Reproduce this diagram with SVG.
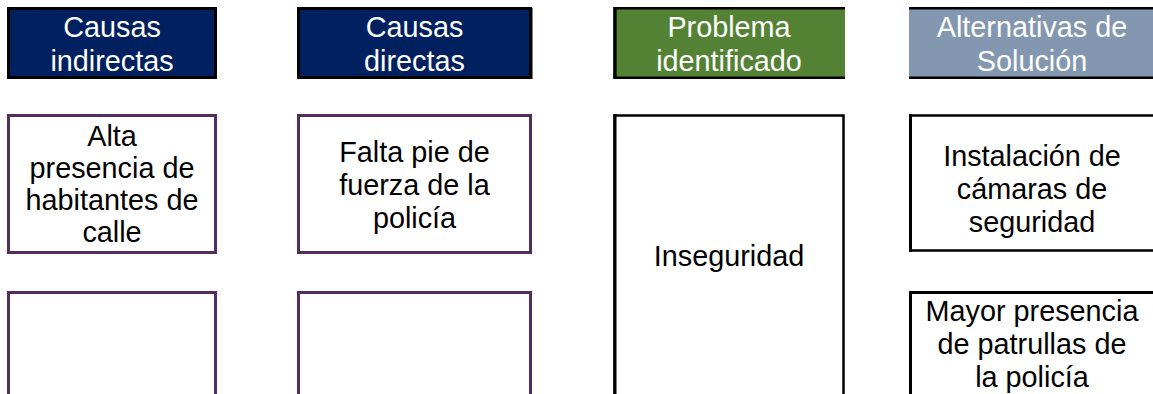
<svg xmlns="http://www.w3.org/2000/svg" width="1153" height="394" viewBox="0 0 1153 394">
<style>
text{font-family:"Liberation Sans",Arial,sans-serif;font-size:28.8px;text-anchor:middle}
.hw{fill:#ffffff}
.bk{fill:#000000}
.pbox{fill:#ffffff;stroke:#542E5E;stroke-width:3}
.kbox{fill:#ffffff;stroke:#000000;stroke-width:2.5}
.edge{stroke:#000000;stroke-width:3;fill:none}
.edge2{stroke:#000000;stroke-width:2.5;fill:none}
</style>
<g id="h-causas-indirectas">
<rect x="8.5" y="8.5" width="207" height="69" fill="#002060" stroke="#000000" stroke-width="3"/>
<text class="hw" x="112" y="37">Causas</text>
<text class="hw" x="112" y="71">indirectas</text>
</g>
<g id="h-causas-directas">
<rect x="298.5" y="8.5" width="232" height="69" fill="#002060" stroke="#000000" stroke-width="3"/>
<line class="edge" x1="531" y1="8" x2="531" y2="79"/>
<text class="hw" x="414.5" y="37">Causas</text>
<text class="hw" x="414.5" y="71">directas</text>
</g>
<g id="h-problema">
<rect x="613" y="7" width="232" height="72" fill="#548235"/>
<path class="edge2" d="M845 8.2H615V77.8H845"/>
<line class="edge" x1="615" y1="7" x2="615" y2="79"/>
<text class="hw" x="729" y="37">Problema</text>
<text class="hw" x="729" y="71">identificado</text>
</g>
<g id="h-alternativas">
<rect x="909" y="7" width="244" height="72" fill="#8497B0"/>
<line class="edge2" x1="909" y1="8.2" x2="1153" y2="8.2"/>
<line class="edge2" x1="909" y1="77.8" x2="1153" y2="77.8"/>
<text class="hw" x="1032" y="37">Alternativas de</text>
<text class="hw" x="1032" y="71">Solución</text>
</g>
<g id="n-alta-presencia">
<rect class="pbox" x="8.5" y="115.5" width="207" height="137"/>
<text class="bk" x="112" y="146">Alta</text>
<text class="bk" x="112" y="178">presencia de</text>
<text class="bk" x="112" y="210">habitantes de</text>
<text class="bk" x="112" y="242">calle</text>
</g>
<g id="n-falta-pie">
<rect class="pbox" x="298.5" y="115.5" width="232" height="137"/>
<text class="bk" x="414.5" y="162">Falta pie de</text>
<text class="bk" x="414.5" y="195">fuerza de la</text>
<text class="bk" x="414.5" y="228">policía</text>
</g>
<g id="n-inseguridad">
<rect class="kbox" x="614.5" y="115.5" width="229" height="290"/>
<line class="edge" x1="615" y1="114" x2="615" y2="394"/>
<text class="bk" x="729" y="266">Inseguridad</text>
</g>
<g id="n-camaras">
<rect class="kbox" x="910.5" y="115.5" width="250" height="135"/>
<line class="edge" x1="910.5" y1="114" x2="910.5" y2="252"/>
<text class="bk" x="1032" y="166">Instalación de</text>
<text class="bk" x="1032" y="199">cámaras de</text>
<text class="bk" x="1032" y="232">seguridad</text>
</g>
<g id="n-vacio-1">
<rect class="pbox" x="8.5" y="292.5" width="207" height="120"/>
</g>
<g id="n-vacio-2">
<rect class="pbox" x="298.5" y="292.5" width="232" height="120"/>
</g>
<g id="n-patrullas">
<rect class="kbox" x="910.5" y="292.5" width="250" height="120"/>
<line class="edge" x1="910.5" y1="291" x2="910.5" y2="394"/>
<line class="edge" x1="909" y1="292.5" x2="1153" y2="292.5"/>
<text class="bk" x="1032" y="321">Mayor presencia</text>
<text class="bk" x="1032" y="354">de patrullas de</text>
<text class="bk" x="1032" y="387">la policía</text>
</g>
<g id="connectors"></g>
</svg>
